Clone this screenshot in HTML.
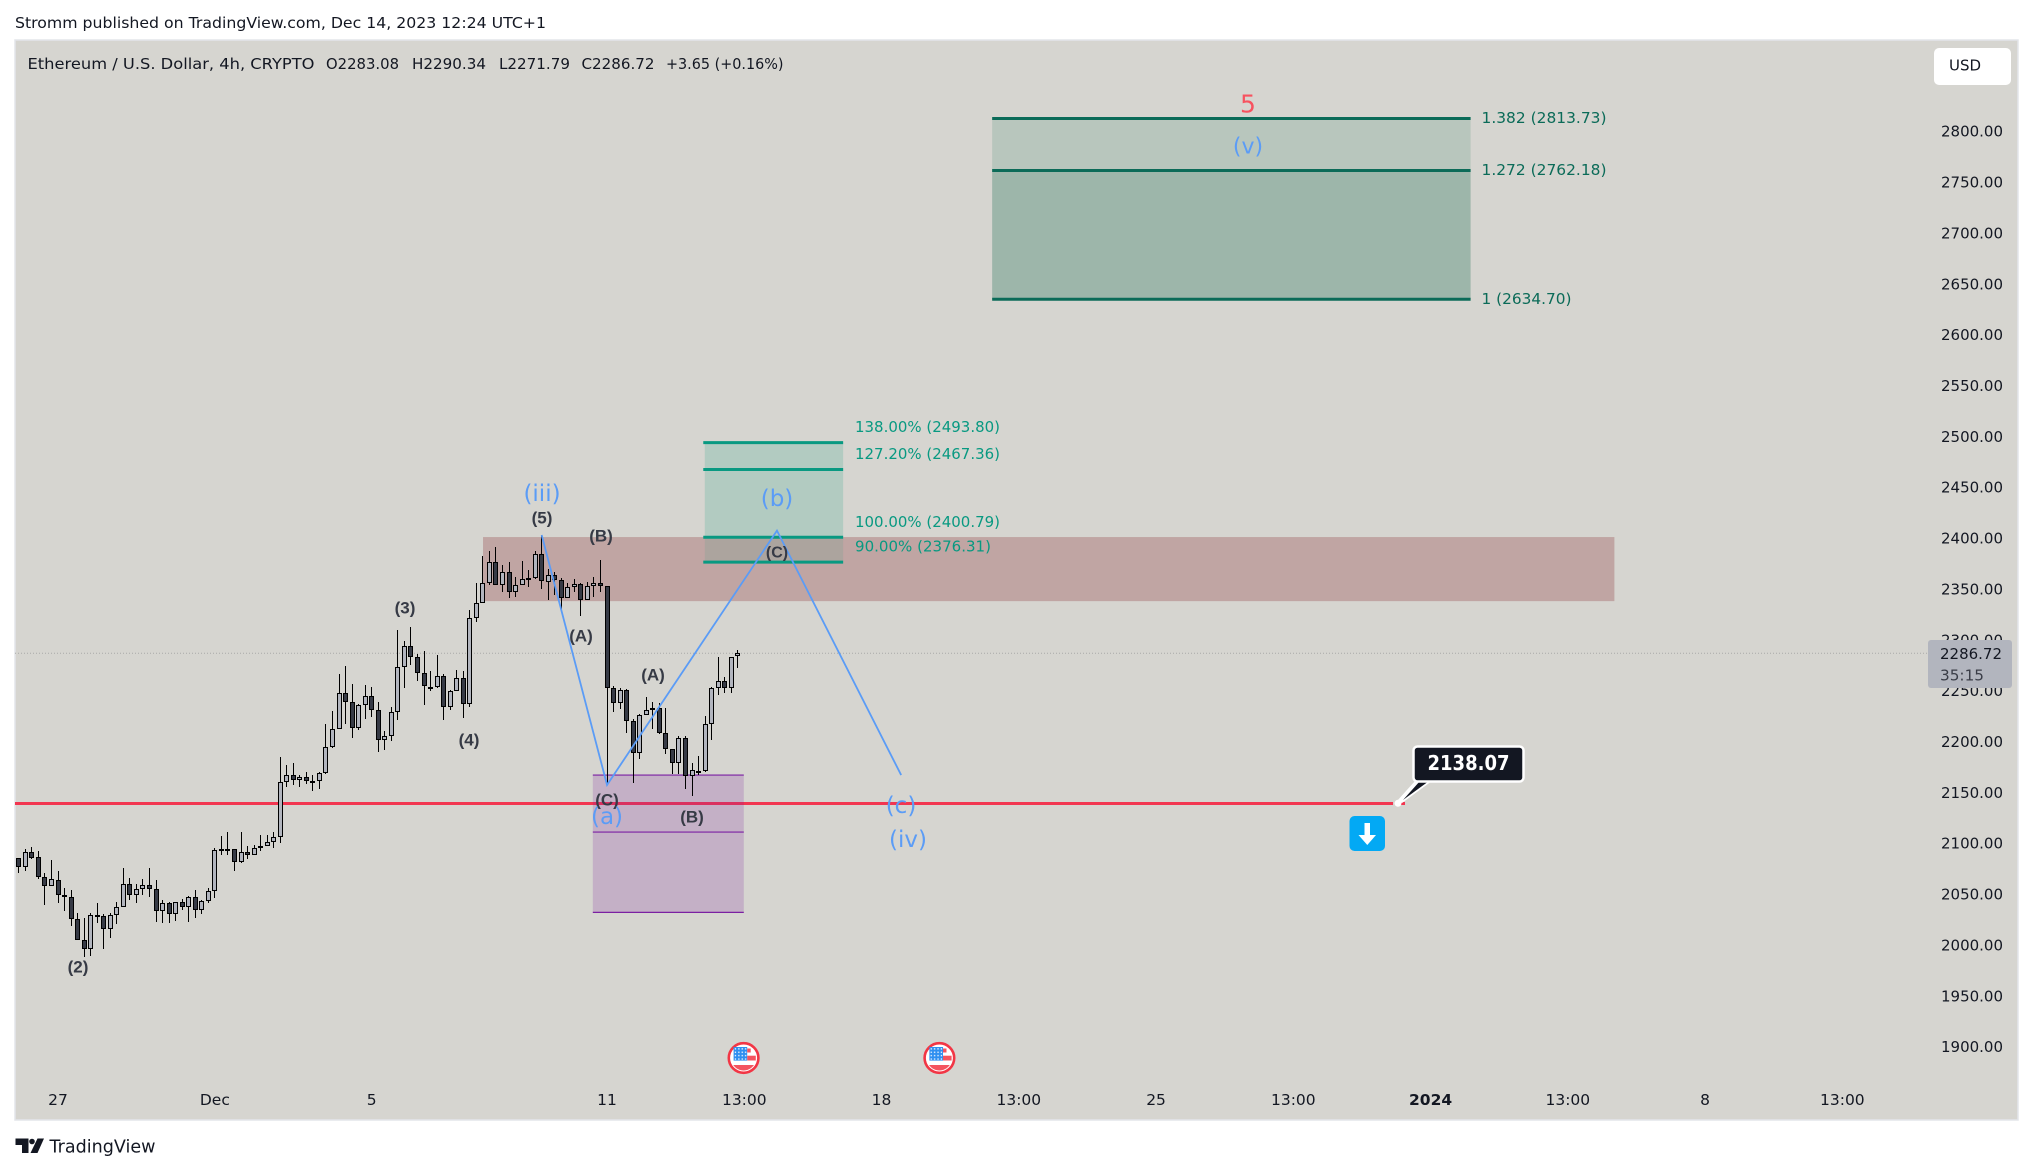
<!DOCTYPE html>
<html lang="en">
<head>
<meta charset="utf-8">
<title>Ethereum / U.S. Dollar 4h chart</title>
<style>
html,body{margin:0;padding:0;background:#fff;width:2033px;height:1173px;overflow:hidden}
svg{display:block}
text{font-family:"DejaVu Sans","Liberation Sans",sans-serif}
.wl{font-family:"Liberation Sans",sans-serif;font-size:17px;font-weight:700;fill:#363a45;text-anchor:middle;dominant-baseline:central}
.bl{font-size:23px;fill:#5b9cf6;text-anchor:middle;dominant-baseline:central}
.ax{font-size:15.5px;fill:#131722;dominant-baseline:central}
.lg{font-size:15.5px;fill:#131722;dominant-baseline:central}
</style>
</head>
<body>
<svg id="chart" xmlns="http://www.w3.org/2000/svg" width="2033" height="1173" viewBox="0 0 2033 1173">
  <defs>
    <pattern id="flag-stars" width="3.4" height="3.4" patternUnits="userSpaceOnUse" x="-10" y="-11">
      <rect width="3.4" height="3.4" fill="#2f8ff0"/>
      <rect x="1.2" y="1.2" width="1.3" height="1.3" fill="#ffffff"/>
    </pattern>
  </defs>
  <rect x="0" y="0" width="2033" height="1173" fill="#ffffff"/>
  <text x="15" y="23" font-size="15.5" fill="#131722" dominant-baseline="central" textLength="531" lengthAdjust="spacingAndGlyphs">Stromm published on TradingView.com, Dec 14, 2023 12:24 UTC+1</text>
  <rect x="15" y="40" width="2003" height="1080" fill="#d6d5d0" stroke="#e3e5ea" stroke-width="1.5"/>
  <g id="zones"></g>
  <g id="candles"></g>
  <g id="wave"></g>

  <g>
    <text class="lg" x="27.5" y="64" textLength="287" lengthAdjust="spacingAndGlyphs">Ethereum / U.S. Dollar, 4h, CRYPTO</text>
    <text class="lg" x="326" y="64" textLength="73" lengthAdjust="spacingAndGlyphs">O2283.08</text>
    <text class="lg" x="412" y="64" textLength="74" lengthAdjust="spacingAndGlyphs">H2290.34</text>
    <text class="lg" x="499" y="64" textLength="71" lengthAdjust="spacingAndGlyphs">L2271.79</text>
    <text class="lg" x="581.5" y="64" textLength="73" lengthAdjust="spacingAndGlyphs">C2286.72</text>
    <text class="lg" x="666" y="64" textLength="117.5" lengthAdjust="spacingAndGlyphs">+3.65 (+0.16%)</text>
  </g>

  <text class="bl" x="1248" y="104" style="fill:#f7525f;font-size:25px">5</text>
  <text class="bl" x="1248" y="147" style="font-size:22px">(v)</text>
  <text class="bl" x="542" y="494">(iii)</text>
  <text class="wl" x="542" y="518">(5)</text>
  <text class="wl" x="601" y="536">(B)</text>
  <text class="wl" x="581" y="636">(A)</text>
  <text class="wl" x="653" y="675">(A)</text>
  <text class="wl" x="607" y="800">(C)</text>
  <text class="bl" x="607" y="817">(a)</text>
  <text class="wl" x="692" y="817">(B)</text>
  <text class="bl" x="777" y="499">(b)</text>
  <text class="wl" x="777" y="553" style="font-size:16px">(C)</text>
  <text class="bl" x="901" y="806">(c)</text>
  <text class="bl" x="908" y="840">(iv)</text>
  <text class="wl" x="78" y="967">(2)</text>
  <text class="wl" x="405" y="608">(3)</text>
  <text class="wl" x="469" y="740">(4)</text>

  <g id="callout">
    <polygon points="1415,781 1432,781 1402,803 1397,801" fill="#ffffff"/>
    <polygon points="1420,781 1429,781 1403,800" fill="#131722"/>
    <rect x="1413.5" y="746.5" width="110" height="35" rx="4" fill="#131722" stroke="#ffffff" stroke-width="2.5"/>
    <text x="1468.5" y="763" font-size="20" font-weight="700" fill="#ffffff" text-anchor="middle" dominant-baseline="central" textLength="82" lengthAdjust="spacingAndGlyphs">2138.07</text>
    <circle cx="1398" cy="803.3" r="3.5" fill="#ffffff"/>
  </g>
  <g id="down-arrow">
    <rect x="1349.5" y="816" width="35.5" height="35" rx="5" fill="#03a9f4"/>
    <rect x="1364.5" y="823" width="5.5" height="14" fill="#ffffff"/>
    <polygon points="1358.5,835 1376,835 1367.3,845" fill="#ffffff"/>
  </g>

  <g id="flag-1" transform="translate(743.6 1058)">
    <circle r="14.8" fill="#ffffff" stroke="#f23645" stroke-width="2.6"/>
    <rect x="-10" y="-11" width="13.6" height="13.6" fill="url(#flag-stars)"/>
    <rect x="3.6" y="-2.3" width="8.6" height="4.8" fill="#f4545f"/>
    <rect x="3.6" y="-9.5" width="3.5" height="4" fill="#f4545f"/>
    <path d="M-10.36 7H10.36A12.5 12.5 0 0 1 -10.36 7z" fill="#f4545f"/>
  </g>
  <g id="flag-2" transform="translate(939.4 1058)">
    <circle r="14.8" fill="#ffffff" stroke="#f23645" stroke-width="2.6"/>
    <rect x="-10" y="-11" width="13.6" height="13.6" fill="url(#flag-stars)"/>
    <rect x="3.6" y="-2.3" width="8.6" height="4.8" fill="#f4545f"/>
    <rect x="3.6" y="-9.5" width="3.5" height="4" fill="#f4545f"/>
    <path d="M-10.36 7H10.36A12.5 12.5 0 0 1 -10.36 7z" fill="#f4545f"/>
  </g>

  <g id="price-axis"></g>
  <g id="time-axis"></g>

  <g id="last-price">
    <rect x="1928" y="640" width="84" height="48" rx="3" fill="#b2b5be"/>
    <text x="1940" y="654" class="ax" textLength="62" lengthAdjust="spacingAndGlyphs">2286.72</text>
    <text x="1940" y="675.5" class="ax" style="fill:#3a3d47" textLength="44" lengthAdjust="spacingAndGlyphs">35:15</text>
  </g>

  <g id="usd-button">
    <rect x="1934" y="48" width="77" height="37" rx="5" fill="#ffffff"/>
    <text x="1965" y="65.5" font-size="15" fill="#131722" text-anchor="middle" dominant-baseline="central">USD</text>
  </g>

  <g id="tv-logo">
    <path d="M15.5 1138.5h13v14.5h-6.5v-8h-6.5z" fill="#131722"/>
    <circle cx="32" cy="1141.5" r="2.8" fill="#131722"/>
    <polygon points="37.5,1138.5 44,1138.5 37.5,1153 30.5,1153" fill="#131722"/>
    <text x="49.5" y="1147" font-size="18" fill="#131722" dominant-baseline="central" textLength="106" lengthAdjust="spacingAndGlyphs">TradingView</text>
  </g>
</svg>
<script>
var opens = [2085.2,2077.0,2091.1,2086.1,2066.5,2058.3,2063.5,2049.4,2046.8,2025.8,
2004.5,1995.7,2029.1,2028.1,2015.3,2029.1,2037.0,2059.6,2048.8,2054.7,
2058.6,2054.7,2033.1,2040.9,2030.1,2041.9,2037.0,2046.8,2034.0,2042.9,
2052.7,2094.0,2094.0,2094.0,2081.2,2091.1,2088.1,2095.0,2097.0,2100.9,
2105.8,2159.8,2166.7,2162.5,2165.4,2161.5,2161.5,2168.7,2194.3,2212.0,
2247.3,2238.5,2212.9,2235.5,2244.4,2230.6,2201.1,2205.1,2228.7,2272.9,
2293.6,2282.7,2267.0,2253.9,2253.2,2264.1,2233.6,2249.3,2262.1,2236.5,
2321.1,2335.9,2355.5,2376.2,2353.5,2366.3,2346.7,2353.5,2360.4,2360.4,
2384.0,2356.5,2363.4,2358.5,2340.8,2351.6,2354.5,2338.8,2352.6,2355.5,
2352.6,2252.3,2237.5,2250.3,2219.8,2188.4,2225.7,2230.7,2232.6,2208.1,
2192.3,2178.6,2203.1,2165.8,2171.3,2170.7,2216.9,2252.3,2259.2,2252.3,2283.7];
var highs = [2085.2,2094.3,2096.0,2092.4,2070.4,2083.5,2072.4,2055.7,2054.0,2031.1,
2026.2,2031.1,2040.9,2030.1,2031.1,2041.9,2075.3,2065.5,2059.9,2064.5,
2075.3,2063.9,2043.9,2041.9,2041.9,2044.9,2047.8,2053.7,2043.9,2055.7,
2095.0,2106.8,2110.7,2094.0,2110.7,2097.0,2098.0,2107.8,2107.8,2110.7,
2184.8,2176.9,2178.5,2166.7,2169.7,2166.7,2169.7,2216.9,2229.6,2266.0,
2273.9,2256.2,2236.5,2255.2,2253.2,2238.5,2210.0,2233.6,2309.3,2298.5,
2312.2,2285.7,2288.6,2269.0,2284.7,2266.0,2250.3,2270.0,2269.0,2328.9,
2355.5,2382.4,2387.3,2390.9,2373.2,2376.2,2361.4,2377.5,2368.6,2387.0,
2403.0,2369.3,2366.3,2360.4,2355.5,2359.4,2355.5,2356.5,2361.4,2378.5,
2352.6,2254.3,2252.3,2251.3,2221.8,2226.7,2243.4,2238.5,2237.5,2232.6,
2192.3,2205.8,2205.8,2178.6,2185.4,2224.8,2253.3,2282.8,2263.1,2282.8,2290.34];
var lows = [2070.4,2073.0,2084.5,2064.5,2039.3,2058.3,2041.6,2033.7,2019.0,2004.5,
1988.5,1989.5,2021.9,1996.4,2007.2,2020.9,2037.0,2044.5,2041.6,2049.4,
2047.5,2022.9,2021.9,2021.9,2023.9,2034.0,2022.9,2026.8,2030.8,2041.6,
2046.5,2088.8,2088.8,2073.0,2080.2,2084.2,2088.1,2092.7,2097.0,2095.3,
2099.9,2155.6,2157.2,2155.6,2158.2,2151.7,2153.6,2167.7,2193.3,2212.0,
2217.2,2203.8,2211.6,2222.4,2224.4,2190.0,2192.0,2200.8,2221.5,2252.9,
2275.5,2259.8,2236.2,2250.0,2252.3,2221.5,2231.3,2249.3,2223.4,2233.6,
2317.8,2335.9,2353.5,2353.5,2347.0,2340.8,2341.7,2353.5,2351.6,2359.4,
2349.9,2338.8,2343.7,2330.3,2340.8,2346.7,2323.7,2338.8,2342.4,2346.7,
2157.3,2228.7,2231.6,2208.1,2158.9,2182.5,2225.7,2212.0,2207.1,2187.4,
2167.7,2167.7,2153.0,2146.8,2167.4,2169.7,2201.5,2245.4,2247.4,2248.0,2271.79];
var closes = [2077.0,2091.1,2085.8,2066.5,2058.3,2064.5,2049.4,2046.8,2025.8,2004.5,
1995.7,2029.1,2028.1,2015.3,2029.1,2037.0,2059.6,2048.8,2054.7,2058.6,
2054.7,2033.1,2040.9,2030.1,2041.9,2037.0,2046.8,2034.0,2042.9,2052.7,
2093.0,2093.7,2093.7,2081.2,2091.1,2088.1,2095.0,2097.0,2100.9,2105.8,
2159.8,2166.7,2162.5,2165.4,2160.8,2160.8,2168.7,2194.3,2212.0,2247.3,
2238.5,2212.9,2235.5,2244.4,2230.6,2201.1,2205.1,2228.7,2272.9,2293.6,
2282.7,2267.0,2254.2,2253.2,2264.1,2233.6,2249.3,2262.1,2236.5,2321.1,
2335.9,2355.5,2376.2,2353.5,2366.3,2346.7,2353.5,2359.4,2359.8,2384.0,
2357.5,2363.4,2358.5,2340.8,2351.6,2354.5,2338.8,2352.6,2355.5,2352.6,
2252.3,2237.5,2250.3,2219.8,2188.4,2225.7,2230.7,2232.6,2208.1,2192.3,
2178.6,2203.1,2165.8,2171.7,2171.0,2216.9,2252.3,2259.2,2252.3,2282.8,2286.72];

var priceTicks = [2800,2750,2700,2650,2600,2550,2500,2450,2400,2350,2300,2250,2200,2150,2100,2050,2000,1950,1900];
var timeTickLabels = ["27","Dec","5","11","13:00","18","13:00","25","13:00","2024","13:00","8","13:00"];
var timeTickBars = [6,30,54,90,111,132,153,174,195,216,237,258,279];

var lastPrice = 2286.72;
var supportPrice = 2138.07;

var bigFibPrices = [2813.73,2762.18,2634.70];
var bigFibRatios = ["1.382","1.272","1"];
var bigFibStartBar = 149;
var bigFibEndBar = 222.2;

var smallFibPrices = [2493.80,2467.36,2400.79,2376.31];
var smallFibRatios = ["138.00%","127.20%","100.00%","90.00%"];
var smallFibStartBar = 104.8;
var smallFibEndBar = 126.2;

var resistanceZonePrices = [2401,2338];
var resistanceZoneBars = [71.1,244.2];
var demandZonePrices = [2167,2111,2032];
var demandZoneBars = [87.9,111];

var waveBars = [80,90,116,135];
var wavePrices = [2403,2157.3,2407.3,2167];

var SVGNS = 'http://www.w3.org/2000/svg';
function yOf(price){ return 653.3 + (lastPrice - price) * 1.0172; }
function yBigFib(price){ return 299.3 + (2634.7 - price) * 1.0099; }
function xOf(bar){ return 18.3 + 6.536 * bar; }
function make(parent, tag, attrs, txt){
  var el = document.createElementNS(SVGNS, tag);
  for (var k in attrs){ el.setAttribute(k, attrs[k]); }
  if (txt !== undefined){ el.textContent = txt; }
  parent.appendChild(el);
  return el;
}

var zones = document.getElementById('zones');
var el;

/* resistance zone */
el = make(zones, 'rect', {x:xOf(resistanceZoneBars[0]), y:yOf(resistanceZonePrices[0]), width:xOf(resistanceZoneBars[1])-xOf(resistanceZoneBars[0]), height:yOf(resistanceZonePrices[1])-yOf(resistanceZonePrices[0]), fill:'#c0a5a3'});



/* big fib extension */
var bx0 = xOf(bigFibStartBar), bx1 = xOf(bigFibEndBar);
el = make(zones, 'rect', {x:bx0, y:yBigFib(bigFibPrices[0]), width:bx1-bx0, height:yBigFib(bigFibPrices[1])-yBigFib(bigFibPrices[0]), fill:'#b8c6bd'});


el = make(zones, 'rect', {x:bx0, y:yBigFib(bigFibPrices[1]), width:bx1-bx0, height:yBigFib(bigFibPrices[2])-yBigFib(bigFibPrices[1]), fill:'#9db6aa'});


bigFibPrices.forEach(function(p, i){
  var yy = yBigFib(p);
  var ln = make(zones, 'line', {x1:bx0, x2:bx1, y1:yy, y2:yy, stroke:'#0b6b58', 'stroke-width':3});
  
  
  var t = make(zones, 'text', {x:1481.5, y:yy - 0.5, 'font-size':15.5, fill:'#0b6b58', 'dominant-baseline':'central', textLength:(i===2?90:125), lengthAdjust:'spacingAndGlyphs'}, bigFibRatios[i] + ' (' + p.toFixed(2) + ')');
  
  
});

/* small fib extension */
var sx0 = xOf(smallFibStartBar), sx1 = xOf(smallFibEndBar);
el = make(zones, 'rect', {x:sx0+1.5, y:yOf(smallFibPrices[0]), width:sx1-sx0-1.5, height:yOf(smallFibPrices[2])-yOf(smallFibPrices[0]), fill:'#b2cbc1'});


el = make(zones, 'rect', {x:sx0+1.5, y:yOf(smallFibPrices[2]), width:sx1-sx0-1.5, height:yOf(smallFibPrices[3])-yOf(smallFibPrices[2]), fill:'#aca49e'});


smallFibPrices.forEach(function(p, i){
  var yy = yOf(p);
  var ln = make(zones, 'line', {x1:sx0, x2:sx1, y1:yy, y2:yy, stroke:'#089981', 'stroke-width':3});
  
  
  var t = make(zones, 'text', {x:855, y:yy - 15.5, 'font-size':15.5, fill:'#089981', 'dominant-baseline':'central', textLength:(i===3?136:145), lengthAdjust:'spacingAndGlyphs'}, smallFibRatios[i] + ' (' + p.toFixed(2) + ')');
  
  
});

/* last price dotted line */
el = make(zones, 'line', {x1:15, x2:1928, y1:yOf(lastPrice), y2:yOf(lastPrice), stroke:'#a9aaa8', 'stroke-width':1, 'stroke-dasharray':'1 2'});



/* support line */
el = make(zones, 'line', {x1:15, x2:1393, y1:yOf(supportPrice) - 1, y2:yOf(supportPrice) - 1, stroke:'#f23650', 'stroke-width':3});


el = make(zones, 'line', {x1:1398, x2:1405, y1:yOf(supportPrice) - 1, y2:yOf(supportPrice) - 1, stroke:'#f23650', 'stroke-width':3});



/* demand zone */
var dx0 = xOf(demandZoneBars[0]), dx1 = xOf(demandZoneBars[1]);
el = make(zones, 'rect', {x:dx0, y:yOf(demandZonePrices[0]), width:dx1-dx0, height:yOf(demandZonePrices[2])-yOf(demandZonePrices[0]), fill:'#7b1fa2', 'fill-opacity':0.2});


demandZonePrices.forEach(function(p){
  var yy = yOf(p);
  var ln = make(zones, 'line', {x1:dx0, x2:dx1, y1:yy, y2:yy, stroke:'#7b1fa2', 'stroke-width':1.2});
  
  
});

/* candles */
var cg = document.getElementById('candles');
opens.forEach(function(o, i){
  var c = closes[i];
  var px = Math.round(xOf(i));
  var down = c < o;
  var wick = make(cg, 'rect', {x:px, y:Math.round(yOf(highs[i])), width:1, height:Math.max(1, Math.round(yOf(lows[i])) - Math.round(yOf(highs[i]))), fill:'#000000', 'shape-rendering':'crispEdges'});
  
  
  var top = Math.round(yOf(Math.max(o, c)));
  var bot = Math.round(yOf(Math.min(o, c)));
  var h = Math.max(2, bot - top);
  var outline = make(cg, 'rect', {x:px - 2, y:top, width:5, height:h, fill:'#000000', 'shape-rendering':'crispEdges'});
  
  
  if (h > 2){
    var body = make(cg, 'rect', {x:px - 1, y:top + 1, width:3, height:h - 2, fill:down ? '#363a45' : '#b2b5be', 'shape-rendering':'crispEdges'});
    
    
  }
});

/* wave projection polyline */
var wg = document.getElementById('wave');
var pts = waveBars.map(function(b, i){ return (xOf(b) + 0.5) + ',' + yOf(wavePrices[i]); }).join(' ');
el = make(wg, 'polyline', {points:pts, fill:'none', stroke:'#5b9cf6', 'stroke-width':1.8});



/* price axis */
var pa = document.getElementById('price-axis');
priceTicks.forEach(function(p){
  var t = make(pa, 'text', {x:1941, y:yOf(p) + 0.5, class:'ax', textLength:62, lengthAdjust:'spacingAndGlyphs'}, p.toFixed(2));
  
  
});

/* time axis */
var ta = document.getElementById('time-axis');
timeTickLabels.forEach(function(lbl, i){
  var bold = lbl === '2024';
  var t = make(ta, 'text', {x:xOf(timeTickBars[i]) + 0.5, y:1100, class:'ax', 'text-anchor':'middle', 'font-weight':bold ? 700 : 400}, lbl);
  
  
});
</script>
</body>
</html>
